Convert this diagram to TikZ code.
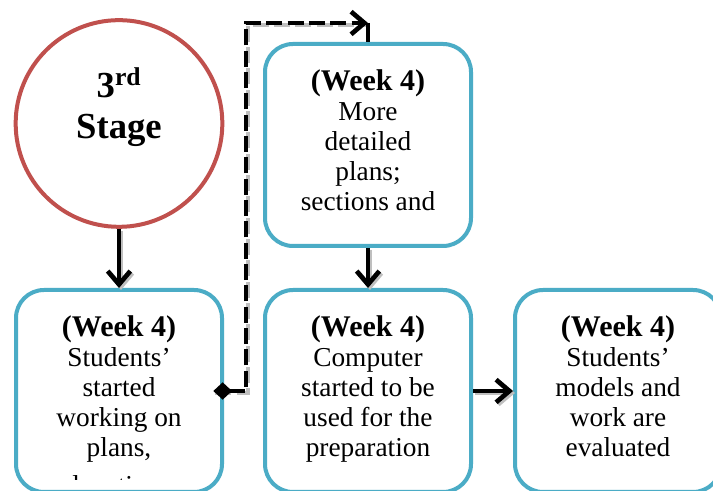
\documentclass[tikz,border=0pt]{standalone}
\usepackage{fontspec}
\setmainfont{Liberation Serif}
\usepackage{xcolor}
\usetikzlibrary{arrows.meta}

\definecolor{stagered}{HTML}{C0504D}
\definecolor{weekblue}{HTML}{4BACC6}

\newcommand{\wk}{{\fontsize{22.5}{22.5}\selectfont\bfseries(Week 4)}}

\tikzset{
	stagecircle/.style={circle, draw=stagered, line width=3pt, minimum size=155pt, inner sep=0pt},
	weekbox/.style={rectangle, rounded corners=21pt, draw=weekblue, line width=3pt,
		minimum width=154.5pt, minimum height=151.5pt, inner sep=0pt,
		align=center, font=\fontsize{20.5}{22.5}\selectfont},
	barb/.tip={Straight Barb[length=10pt,width=17pt,line width=3.5pt]},
	flow/.style={line width=3pt, -barb},
	dashflow/.style={line width=3.2pt, dash pattern=on 12pt off 4pt},
}

\begin{document}
\begin{tikzpicture}[x=0.75pt,y=0.75pt]
		\newcommand{\flowarrow}[2]{
			\draw[flow, black!25, transform canvas={shift={(1.5pt,-1.5pt)}}] (#1) -- (#2);
			\draw[flow] (#1) -- (#2);
		}
		\fill[white] (0,0) rectangle (713,491);
		\useasboundingbox (0,0) rectangle (713,491);
		\clip (0,0) rectangle (713,491);

		% stage circle
		\node[stagecircle] (s3) at (119,367.5) {};
		\node[align=center, font=\bfseries\fontsize{27.5}{31}\selectfont] (s3lbl) at (119,384) {3\textsuperscript{rd}\\Stage};

		% week 4 boxes
		\node[weekbox] (w4a) at (119,100) {\strut\wk\\Students’\\started\\working on\\plans,\strut};
		\node[weekbox] (w4b) at (368,346) {\strut\wk\\More\\detailed\\plans;\\sections and\strut};
		\node[weekbox] (w4c) at (368,100) {\strut\wk\\Computer\\started to be\\used for the\\preparation\strut};
		\node[weekbox] (w4d) at (618,100) {\strut\wk\\Students’\\models and\\work are\\evaluated\strut};
		\begin{scope}
			\clip (0,11) rectangle (240,60);
			\node[anchor=base, font=\fontsize{20.5}{22.5}\selectfont] (w4amore) at (119,-4) {elevations,};
		\end{scope}

		\flowarrow{s3.south}{w4a.north}
		\flowarrow{w4b.south}{w4c.north}
		\flowarrow{w4c.east}{w4d.west}

		% dashed link up to the top box
		\coordinate (elbow) at (246,468);
		\coordinate (corner) at (368,468);
		\draw[dashflow, black!25, transform canvas={shift={(1.5pt,-1.5pt)}}] ([xshift=-8pt]w4a.east) -| (elbow) -- (corner);
		\draw[dashflow, {Diamond[length=14pt,width=13pt,sep=0pt]}-barb] ([xshift=-8pt]w4a.east) -| (elbow) -- (corner);
		\draw[line width=3pt] (corner) -- (w4b.north);
	\end{tikzpicture}
\end{document}
